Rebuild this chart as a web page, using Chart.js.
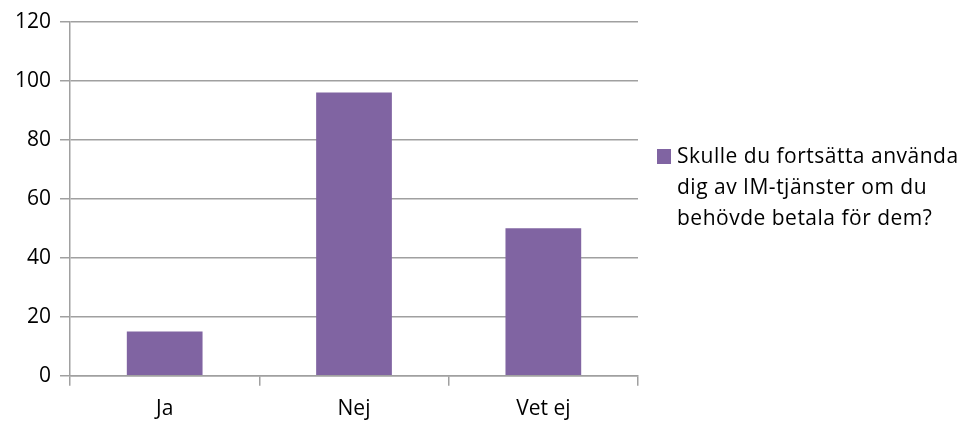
<!DOCTYPE html>
<html>
<head>
<meta charset="utf-8">
<script src="https://cdn.jsdelivr.net/npm/chart.js@4"></script>
<style>
    html, body { margin: 0; padding: 0; background: #fff; }
    #wrap { position: relative; width: 976px; height: 424px; }
    #legend { position: absolute; left: 657px; top: 140px; font-family: "Open Sans", sans-serif; font-size: 21px; line-height: 31px; letter-spacing: 0.5px; color: #000; white-space: nowrap; }
    #legend .box { display: inline-block; width: 14px; height: 15px; margin-right: 6px; vertical-align: -1px; }
</style>
</head>
<body>
<div id="wrap">
    <canvas id="grafico" width="976" height="424"></canvas>
    <div id="legend"></div>
</div>
<script>
// Dados do gráfico
const categorias = ['Ja', 'Nej', 'Vet ej'];
const valores = [15, 96, 50];
const serieNome = ['Skulle du fortsätta använda', 'dig av IM-tjänster om du', 'behövde betala för dem?'];
const yTicks = [0, 20, 40, 60, 80, 100, 120];

const corBarra = '#8064a2';
const corGrade = '#a0a0a0';
const fonte = { family: '"Open Sans", sans-serif', size: 21 };

const chart = new Chart(document.getElementById('grafico'), {
    type: 'bar',
    data: {
        labels: categorias,
        datasets: [{
            label: serieNome.join(' '),
            data: valores,
            backgroundColor: corBarra,
            categoryPercentage: 1,
            barPercentage: 0.4
        }]
    },
    options: {
        responsive: false,
        animation: false,
        layout: { padding: { left: 6, right: 338, top: 3, bottom: -9 } },
        plugins: { legend: { display: false }, tooltip: { enabled: false } },
        scales: {
            y: {
                min: 0, max: 120,
                afterBuildTicks: axis => { axis.ticks = yTicks.map(v => ({ value: v })); },
                grid: { color: corGrade, lineWidth: 1.5, tickLength: 10 },
                border: { color: corGrade, width: 1.5 },
                ticks: { color: '#000', padding: 9, font: fonte }
            },
            x: {
                grid: { offset: true, drawOnChartArea: false, color: corGrade, lineWidth: 1.5, tickLength: 10 },
                border: { color: corGrade, width: 1.5 },
                ticks: { color: '#000', padding: 11, font: fonte }
            }
        }
    }
});

// Legenda em HTML (quebra em 3 linhas como no original)
const leg = document.getElementById('legend');
leg.innerHTML = serieNome.map((t, i) =>
    (i === 0 ? `<span class="box" style="background:${corBarra}"></span>` : '<span style="display:inline-block;width:20px"></span>') + t
).join('<br>');
</script>
</body>
</html>
